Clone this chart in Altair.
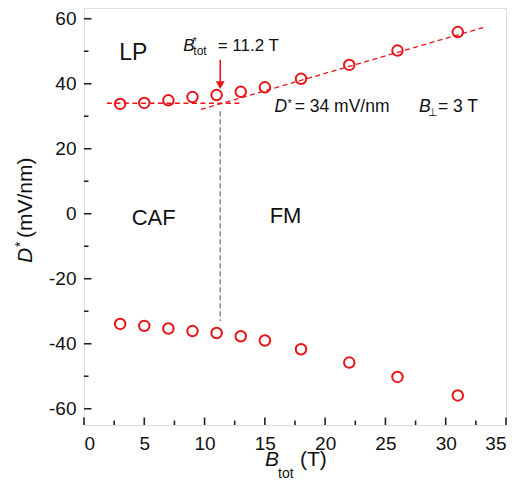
import altair as alt
import pandas as pd

# ---- data ----
B_tot = [3, 5, 7, 9, 11, 13, 15, 18, 22, 26, 31]
D_pos = [33.8, 34.1, 34.9, 35.9, 36.5, 37.5, 38.9, 41.5, 45.8, 50.2, 55.9]
D_neg = [-33.9, -34.5, -35.3, -36.1, -36.7, -37.7, -39.0, -41.7, -45.8, -50.2, -55.9]

lp_fit_x = [1.9, 13.1]
lp_fit_y = [34.0, 34.0]
fm_fit_x = [9.7, 33.4]
fm_fit_y = [32.1, 57.6]
crit_x = [11.3, 11.3]
crit_y = [31.5, -33.1]
arrow_y = [47.4, 40.5]
arrow_tip_y = [39.6]

x_major = [0, 5, 10, 15, 20, 25, 30, 35]
x_minor = [2.5, 7.5, 12.5, 17.5, 22.5, 27.5, 32.5]
y_major = [-60, -40, -20, 0, 20, 40, 60]
y_minor = [-50, -30, -10, 10, 30, 50]

# annotation pieces: text, x, y, font size, italic
ann_text = ["LP", "CAF", "FM",
            "D", "*", "= 34 mV/nm",
            "B", "⊥", "= 3 T",
            "B", "*", "tot", "= 11.2 T"]
ann_x = [2.93, 3.95, 15.4,
         15.81, 16.87, 17.47,
         27.78, 28.55, 29.35,
         8.23, 8.99, 9.07, 11.09]
ann_y = [47.4, -3.4, -2.7,
         31.2, 32.9, 31.2,
         31.2, 30.15, 31.2,
         50.2, 52.0, 48.9, 50.2]
ann_size = [23, 22, 22,
            17.5, 11, 17.5,
            17.5, 11, 17.5,
            17, 11, 12, 17]
ann_italic = [False, False, False,
              True, False, False,
              True, False, False,
              True, False, False, False]

RED = "#e8141a"
FONT = "Liberation Sans"
W, H = 422, 417

xs = alt.Scale(domain=[0, 35], nice=False, zero=False)
ys = alt.Scale(domain=[-65, 63.3], nice=False, zero=False)
xax = alt.Axis(values=x_major, ticks=False, tickSize=0, domain=False, grid=False, title=None,
               labelFont=FONT, labelFontSize=19, labelColor="#111", labelPadding=9,
               labelExpr="toString(datum.value)")
yax = alt.Axis(values=y_major, ticks=False, tickSize=0, domain=False, grid=False, title=None,
               labelFont=FONT, labelFontSize=19, labelColor="#111", labelPadding=8,
               labelExpr="toString(datum.value)")

pts = pd.DataFrame({"B": B_tot + B_tot, "D": D_pos + D_neg})
points = alt.Chart(pts).mark_point(shape="circle", filled=False, color=RED, size=110,
                                   strokeWidth=2, opacity=1).encode(
    x=alt.X("B:Q", scale=xs, axis=xax),
    y=alt.Y("D:Q", scale=ys, axis=yax),
)

def line(xv, yv, color, dash, width):
    df = pd.DataFrame({"B": xv, "D": yv})
    return alt.Chart(df).mark_line(color=color, strokeDash=dash, strokeWidth=width).encode(
        x=alt.X("B:Q", scale=xs, axis=xax),
        y=alt.Y("D:Q", scale=ys, axis=yax),
    )

lp_line = line(lp_fit_x, lp_fit_y, RED, [5, 3.5], 1.3)
fm_line = line(fm_fit_x, fm_fit_y, RED, [5, 3.5], 1.3)
crit_line = line(crit_x, crit_y, "#8c8c8c", [5, 3], 1.5)
arrow_shaft = line([crit_x[0], crit_x[0]], arrow_y, RED, [1, 0], 1.6)
arrow_head = alt.Chart(pd.DataFrame({"B": [crit_x[0]], "D": arrow_tip_y})).mark_point(
    shape="triangle-down", filled=True, color=RED, size=80, opacity=1).encode(
    x=alt.X("B:Q", scale=xs, axis=xax),
    y=alt.Y("D:Q", scale=ys, axis=yax),
)

# inward ticks
ytick_major = alt.Chart(pd.DataFrame({"D": y_major})).mark_rule(color="#222", strokeWidth=1.6).encode(
    y=alt.Y("D:Q", scale=ys, axis=yax), x=alt.value(0), x2=alt.value(7.5))
ytick_minor = alt.Chart(pd.DataFrame({"D": y_minor})).mark_rule(color="#222", strokeWidth=1.6).encode(
    y=alt.Y("D:Q", scale=ys, axis=yax), x=alt.value(0), x2=alt.value(4.5))
xtick_major = alt.Chart(pd.DataFrame({"B": x_major})).mark_rule(color="#222", strokeWidth=1.6).encode(
    x=alt.X("B:Q", scale=xs, axis=xax), y=alt.value(H), y2=alt.value(H - 7.5))
xtick_minor = alt.Chart(pd.DataFrame({"B": x_minor})).mark_rule(color="#222", strokeWidth=1.6).encode(
    x=alt.X("B:Q", scale=xs, axis=xax), y=alt.value(H), y2=alt.value(H - 4.5))

ann = pd.DataFrame({"t": ann_text, "B": ann_x, "D": ann_y, "fs": ann_size, "it": ann_italic})
ann_normal = alt.Chart(ann).transform_filter("!datum.it").mark_text(
    font=FONT, color="#111", align="left", baseline="alphabetic").encode(
    x=alt.X("B:Q", scale=xs, axis=xax), y=alt.Y("D:Q", scale=ys, axis=yax),
    text="t:N", size=alt.Size("fs:Q", scale=None, legend=None))
ann_ital = alt.Chart(ann).transform_filter("datum.it").mark_text(
    font=FONT, color="#111", align="left", baseline="alphabetic", fontStyle="italic").encode(
    x=alt.X("B:Q", scale=xs, axis=xax), y=alt.Y("D:Q", scale=ys, axis=yax),
    text="t:N", size=alt.Size("fs:Q", scale=None, legend=None))

# axis titles built from text pieces (pixel positions relative to plot area)
def title_piece(txt, px, py, fs, italic=False, angle=0):
    kw = dict(font=FONT, color="#111", align="left", baseline="alphabetic", fontSize=fs, text=txt)
    if italic:
        kw["fontStyle"] = "italic"
    if angle:
        kw["angle"] = angle
    return alt.Chart(pd.DataFrame({"a": [0]})).mark_text(**kw).encode(
        x=alt.value(px), y=alt.value(py))

xt1 = title_piece("B", 181, 458, 21, italic=True)
xt2 = title_piece("tot", 194, 470, 14)
xt3 = title_piece("(T)", 216, 458, 21)
yt1 = title_piece("D", -52.5, 255, 21, italic=True, angle=270)
yt2 = title_piece("*", -59.5, 239, 14, angle=270)
yt3 = title_piece("(mV/nm)", -52.5, 230, 21, angle=270)

chart = alt.layer(
    crit_line, lp_line, fm_line, points, arrow_shaft, arrow_head,
    ytick_major, ytick_minor, xtick_major, xtick_minor,
    ann_normal, ann_ital,
    xt1, xt2, xt3, yt1, yt2, yt3,
).properties(
    width=W, height=H,
    autosize=alt.AutoSizeParams(type="none"),
    padding={"left": 76, "top": 0, "right": 4, "bottom": 60},
).configure_view(stroke="#222", strokeWidth=1.8).configure(background="white")

chart.save("out.html", embed_options={"renderer": "svg", "actions": False})
